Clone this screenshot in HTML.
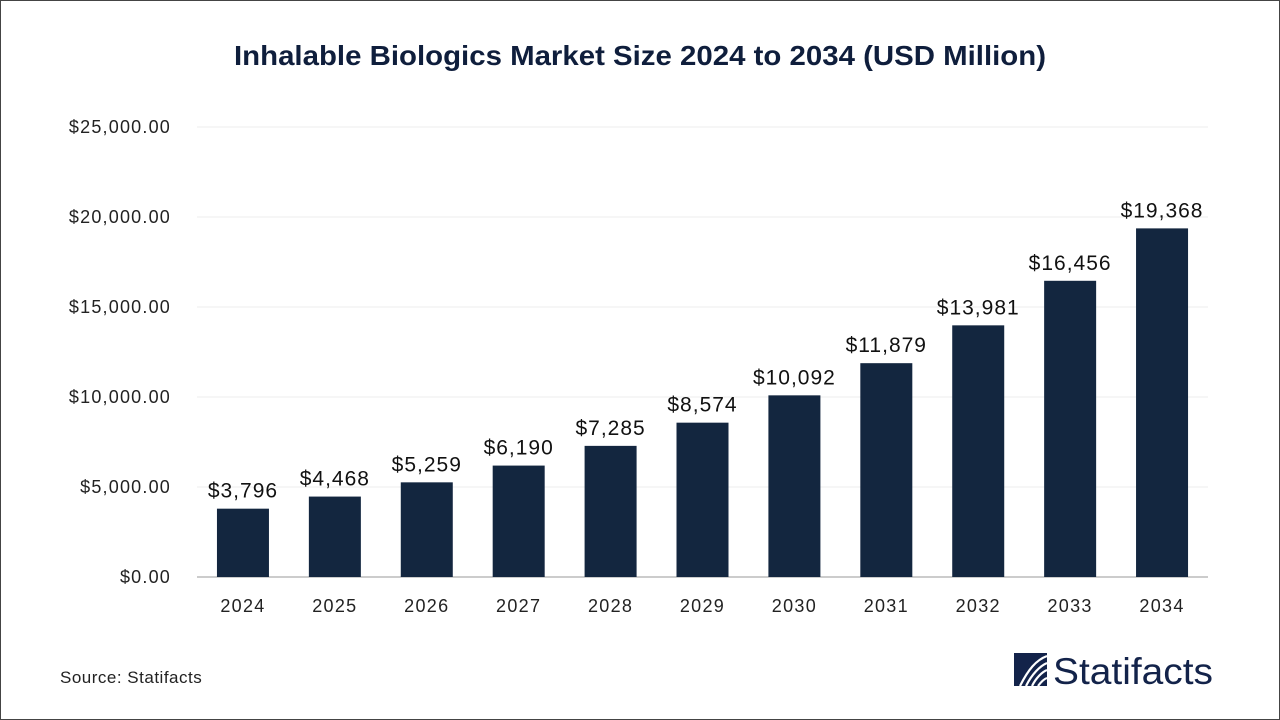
<!DOCTYPE html>
<html><head><meta charset="utf-8"><style>
body{margin:0;background:#fff;font-family:"Liberation Sans",Arial,sans-serif;}
#frame{position:absolute;left:0;top:0;width:1278px;height:718px;border:1px solid #444;}
</style></head><body>
<div id="frame"></div>
<svg id="chart" width="1280" height="720" style="position:absolute;left:0;top:0">
<text x="234" y="65" textLength="812" lengthAdjust="spacingAndGlyphs" font-size="28" font-weight="bold" fill="#0f1e3c">Inhalable Biologics Market Size 2024 to 2034 (USD Million)</text>
<g id="grid"></g><g id="bars"></g>
<text x="60" y="683" font-size="17" letter-spacing="0.5" fill="#222">Source: Statifacts</text>
<g>
<rect x="1014" y="653" width="33" height="33" fill="#13234a"/>
<path d="M1020 686 C1028 670,1036 660,1047 656 M1026 686 C1032 674,1040 666,1047 663 M1032 686 C1036 678,1042 672,1047 670 M1038 686 C1041 682,1044 679,1047 678" stroke="#fff" stroke-width="2.2" fill="none"/>
<text x="1053" y="684" font-size="37" textLength="160" lengthAdjust="spacingAndGlyphs" fill="#13234a">Statifacts</text>
</g>
</svg>
<script>
const years=["2024","2025","2026","2027","2028","2029","2030","2031","2032","2033","2034"];
const values=[3796,4468,5259,6190,7285,8574,10092,11879,13981,16456,19368];
const ticks=[0,5000,10000,15000,20000,25000];
const ns="http://www.w3.org/2000/svg";
const x0=197,x1=1208,yBase=577,yTop=127,yMax=25000;
const band=(x1-x0)/years.length;
const y=v=>yBase-(v/yMax)*(yBase-yTop);
const xc=i=>x0+band*(i+0.5);
function mk(t,a,p){const e=document.createElementNS(ns,t);for(const k in a)e.setAttribute(k,a[k]);p.appendChild(e);return e;}
const g=document.getElementById('grid'),b=document.getElementById('bars');
ticks.forEach(t=>{
 const l=mk('line',{x1:x0,x2:x1,y1:y(t),y2:y(t),stroke:t===0?'#bbb':'#eee','stroke-width':t===0?1.5:1},g);
 
 
 const tx=mk('text',{x:171,y:y(t)+6,'text-anchor':'end','font-size':18,'letter-spacing':1.2,fill:'#222'},g);
 tx.textContent='$'+t.toLocaleString('en-US',{minimumFractionDigits:2});
 
 
});
values.forEach((v,i)=>{
 const r=mk('rect',{x:xc(i)-26,y:y(v),width:52,height:yBase-y(v),fill:'#13263f'},b);
 
 
 const lv=mk('text',{x:xc(i),y:y(v)-11,'text-anchor':'middle','font-size':21,'letter-spacing':1,fill:'#111'},b);
 lv.textContent='$'+v.toLocaleString('en-US');
 
 
 const lx=mk('text',{x:xc(i),y:612,'text-anchor':'middle','font-size':18,'letter-spacing':1.3,fill:'#222'},b);
 lx.textContent=years[i];
 
 
});
</script>
</body></html>
